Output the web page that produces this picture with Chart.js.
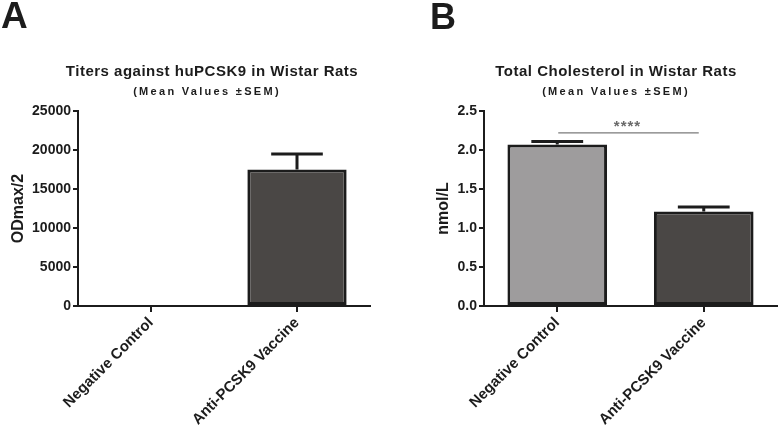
<!DOCTYPE html>
<html>
<head>
<meta charset="utf-8">
<script src="https://cdn.jsdelivr.net/npm/chart.js@4/dist/chart.umd.min.js"></script>
<style>
  html, body { margin: 0; padding: 0; background: #fff; overflow: hidden; }
  .wrap { position: absolute; top: 0; width: 390px; height: 430px; }
  #wa { left: 0; }
  #wb { left: 390px; }
</style>
</head>
<body>
<div class="wrap" id="wa"><canvas id="chartA" width="390" height="430"></canvas></div>
<div class="wrap" id="wb"><canvas id="chartB" width="390" height="430"></canvas></div>
<script>
// データ
const groups = ["Negative Control", "Anti-PCSK9 Vaccine"];

const titerMean = [0, 17500];
const titerSem  = [0, 2000];
const titerTicks = [0, 5000, 10000, 15000, 20000, 25000];

const cholMean = [2.07, 1.21];
const cholSem  = [0.04, 0.06];
const cholTicks = [0.0, 0.5, 1.0, 1.5, 2.0, 2.5];

// 有意差 (group index from, to, y level, label y)
const cholSig = { from: 0, to: 1, y: 2.22, labelY: 2.34, text: "****" };

const INK = "#1c1c1c";
const FONT = "'Liberation Sans', Arial, sans-serif";

// エラーバー + 有意差 + 見出し
const extras = {
  id: "extras",
  afterDatasetsDraw(chart, args, opts) {
    const ctx = chart.ctx;
    const ys = chart.scales.y, xs = chart.scales.x;
    const meta = chart.getDatasetMeta(0);
    ctx.save();
    ctx.strokeStyle = INK;
    ctx.lineWidth = 3;
    meta.data.forEach((bar, i) => {
      const sem = opts.sem[i];
      if (!sem) return;
      const yTop = ys.getPixelForValue(opts.mean[i] + sem);
      const half = bar.width * 0.26;
      ctx.beginPath();
      ctx.moveTo(bar.x, bar.y);
      ctx.lineTo(bar.x, yTop);
      ctx.moveTo(bar.x - half, yTop);
      ctx.lineTo(bar.x + half, yTop);
      ctx.stroke();
    });
    if (opts.sig) {
      const s = opts.sig;
      const yl = ys.getPixelForValue(s.y);
      const x0 = xs.getPixelForValue(s.from), x1 = xs.getPixelForValue(s.to);
      ctx.strokeStyle = "#7a7a7a";
      ctx.lineWidth = 1.3;
      ctx.beginPath();
      ctx.moveTo(x0 + 1, yl);
      ctx.lineTo(x1 - 5, yl);
      ctx.stroke();
      ctx.fillStyle = "#6a6a6a";
      ctx.font = "bold 15px " + FONT;
      ctx.letterSpacing = "1px";
      ctx.textAlign = "center";
      ctx.textBaseline = "middle";
      ctx.fillText(s.text, (x0 + x1) / 2 - 3, ys.getPixelForValue(s.labelY) + 3);
    }
    ctx.restore();
  },
  afterDraw(chart, args, opts) {
    const ctx = chart.ctx;
    ctx.save();
    ctx.fillStyle = INK;
    ctx.textBaseline = "middle";
    for (const t of opts.texts) {
      ctx.font = t.font;
      ctx.textAlign = t.align || "center";
      ctx.letterSpacing = t.spacing || "0px";
      ctx.fillText(t.text, t.x, t.y);
    }
    ctx.restore();
  }
};

function makeChart(id, cfg) {
  return new Chart(document.getElementById(id), {
    type: "bar",
    data: {
      labels: groups,
      datasets: [{
        data: cfg.mean,
        backgroundColor: cfg.colors,
        borderColor: INK,
        borderWidth: 3,
        borderSkipped: false,
        barPercentage: 0.68,
        categoryPercentage: 1.0
      }]
    },
    options: {
      responsive: false,
      animation: false,
      events: [],
      layout: { padding: { top: 111, right: cfg.padRight, left: cfg.padLeft, bottom: 0 } },
      scales: {
        x: {
          offset: true,
          grid: { display: true, offset: false, drawOnChartArea: false, drawTicks: true, tickLength: 6, color: INK, lineWidth: 2 },
          border: { display: true, color: INK, width: 2 },
          ticks: { color: INK, font: { family: FONT, size: 15, weight: "bold" }, minRotation: 45, maxRotation: 45, padding: 2 },
          afterFit(s) { s.height = 124; }
        },
        y: {
          min: cfg.ticks[0],
          max: cfg.ticks[cfg.ticks.length - 1],
          afterBuildTicks(s) { s.ticks = cfg.ticks.map(v => ({ value: v })); },
          grid: { display: true, drawOnChartArea: false, drawTicks: true, tickLength: 5, color: INK, lineWidth: 2 },
          border: { display: true, color: INK, width: 2 },
          ticks: {
            color: INK, padding: 2,
            font: { family: FONT, size: 14, weight: "bold" },
            callback: v => cfg.fmt(v)
          },
          title: { display: true, text: cfg.yTitle, color: INK, font: { family: FONT, size: 16, weight: "bold" }, padding: { top: cfg.titlePad, bottom: 0 } },
          afterFit(s) { s.width = cfg.yWidth; }
        }
      },
      plugins: {
        legend: { display: false },
        tooltip: { enabled: false },
        extras: { mean: cfg.mean, sem: cfg.sem, sig: cfg.sig, texts: cfg.texts }
      }
    },
    plugins: [extras]
  });
}

makeChart("chartA", {
  mean: titerMean, sem: titerSem, ticks: titerTicks,
  colors: ["#4a4745", "#4a4745"],
  fmt: v => String(v),
  yTitle: "ODmax/2",
  padLeft: 0, padRight: 20, yWidth: 78, titlePad: 9,
  sig: null,
  texts: [
    { text: "A", x: 1, y: 18, font: "bold 37px " + FONT, align: "left" },
    { text: "Titers against huPCSK9 in Wistar Rats", x: 212, y: 72, font: "bold 15px " + FONT, spacing: "0.5px" },
    { text: "(Mean Values \u00b1SEM)", x: 207, y: 92, font: "bold 11px " + FONT, spacing: "2.3px" }
  ]
});

makeChart("chartB", {
  mean: cholMean, sem: cholSem, ticks: cholTicks,
  colors: ["#9e9c9d", "#4a4745"],
  fmt: v => v.toFixed(1),
  yTitle: "nmol/L",
  padLeft: 30, padRight: 3, yWidth: 64, titlePad: 14,
  sig: cholSig,
  texts: [
    { text: "B", x: 40, y: 19, font: "bold 36px " + FONT, align: "left" },
    { text: "Total Cholesterol in Wistar Rats", x: 226, y: 72, font: "bold 15px " + FONT, spacing: "0.5px" },
    { text: "(Mean Values \u00b1SEM)", x: 226, y: 92, font: "bold 11px " + FONT, spacing: "2.3px" }
  ]
});
</script>
</body>
</html>
